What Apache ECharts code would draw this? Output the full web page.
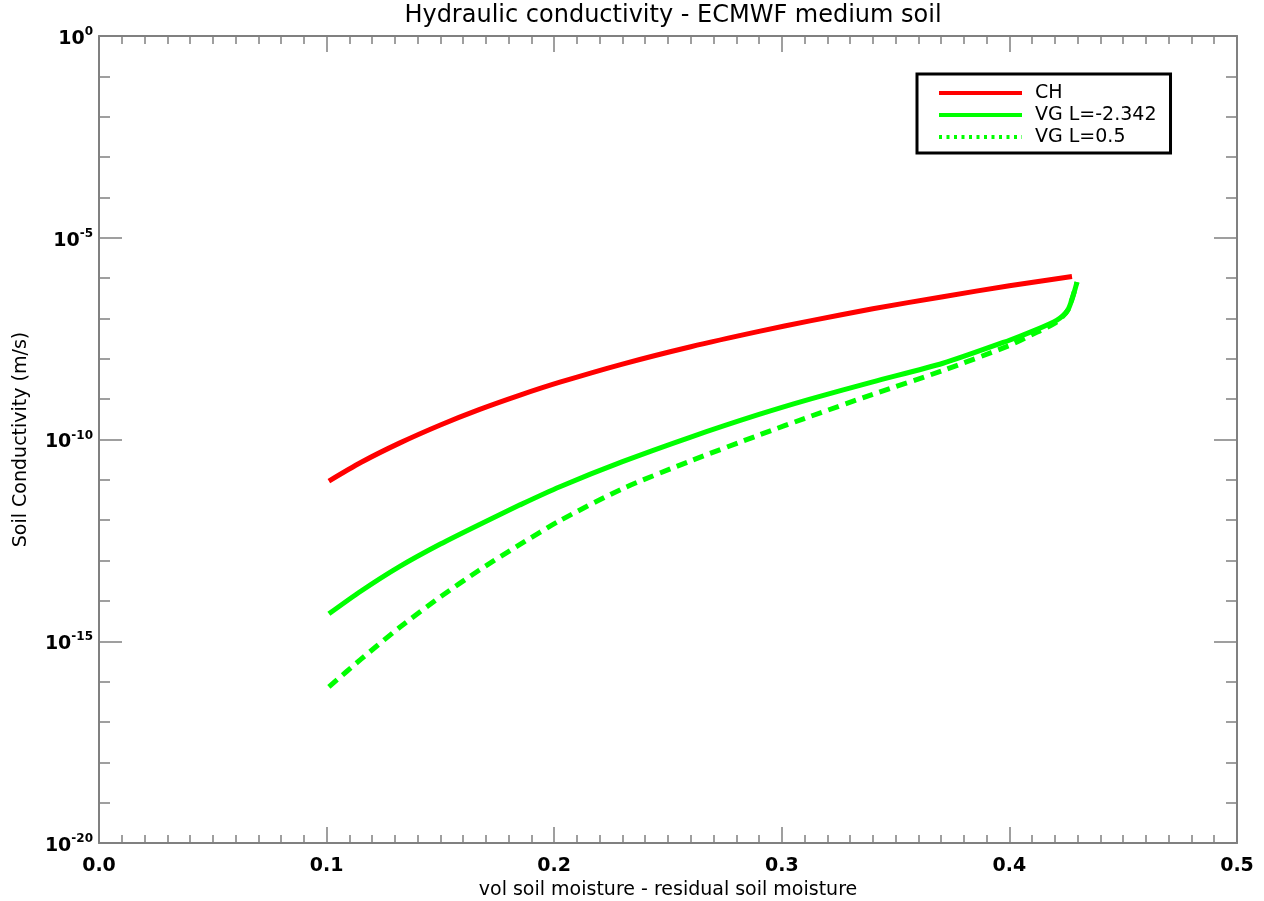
<!DOCTYPE html>
<html>
<head>
<meta charset="utf-8">
<title>Hydraulic conductivity - ECMWF medium soil</title>
<script src="https://cdn.jsdelivr.net/npm/echarts@6/dist/echarts.min.js"></script>
<style>
  html, body { margin: 0; padding: 0; background: #fff; }
  #chart { width: 1264px; height: 901px; }
</style>
</head>
<body>
<div id="chart"></div>
<script>
// Soil moisture above residual (m3/m3) and log10 of conductivity (m/s)
const chMoisture = [0.101, 0.115, 0.132, 0.150, 0.167, 0.185, 0.2025, 0.23, 0.26, 0.29, 0.3124, 0.34, 0.3708, 0.40, 0.4275];
const chLogK     = [-11.03, -10.57, -10.09, -9.64, -9.26, -8.90, -8.58, -8.13, -7.70, -7.32, -7.06, -6.76, -6.46, -6.19, -5.96];

const vgMoisture = [0.101, 0.115, 0.132, 0.150, 0.167, 0.185, 0.2025, 0.23, 0.26, 0.29, 0.3124, 0.34, 0.3708, 0.40, 0.41, 0.4209, 0.4257, 0.4297];
const vgNegLogK  = [-14.32, -13.76, -13.15, -12.59, -12.11, -11.62, -11.17, -10.55, -9.94, -9.38, -9.00, -8.57, -8.11, -7.54, -7.32, -7.04, -6.79, -6.10];
const vgHalfLogK = [-16.13, -15.45, -14.66, -13.90, -13.24, -12.60, -12.01, -11.22, -10.53, -9.89, -9.43, -8.88, -8.29, -7.67, -7.40, -7.08, -6.79, -6.10];

const seriesNames = ['CH', 'VG L=-2.342', 'VG L=0.5'];
const xTicks = [0.0, 0.1, 0.2, 0.3, 0.4, 0.5];
const yExponents = [-20, -15, -10, -5, 0];

const FONT = 'DejaVu Sans';
const AXIS_GREY = '#808080';

function pairs(xs, ys) {
  return xs.map((x, i) => [x, ys[i]]);
}

function xAxisCfg(position, showLabels) {
  return {
    type: 'value',
    position: position,
    min: xTicks[0],
    max: xTicks[xTicks.length - 1],
    interval: 0.1,
    axisLine: { show: true, onZero: false, lineStyle: { color: AXIS_GREY, width: 2 } },
    axisTick: { show: true, inside: true, length: 16, lineStyle: { color: AXIS_GREY, width: 1.5 } },
    minorTick: { show: true, splitNumber: 10, length: 8, lineStyle: { color: AXIS_GREY, width: 1.5 } },
    splitLine: { show: false },
    axisLabel: {
      show: showLabels,
      margin: 14,
      color: '#000',
      fontFamily: FONT,
      fontWeight: 'bold',
      fontSize: 19,
      formatter: v => v.toFixed(1)
    },
    name: showLabels ? 'vol soil moisture - residual soil moisture' : '',
    nameLocation: 'middle',
    nameGap: 36,
    nameTextStyle: { color: '#000', fontFamily: FONT, fontSize: 19 }
  };
}

function yAxisCfg(position, showLabels) {
  return {
    type: 'value',
    position: position,
    min: yExponents[0],
    max: yExponents[yExponents.length - 1],
    interval: 5,
    axisLine: { show: true, onZero: false, lineStyle: { color: AXIS_GREY, width: 2 } },
    axisTick: { show: true, inside: true, length: 23, lineStyle: { color: AXIS_GREY, width: 1.5 } },
    minorTick: { show: true, splitNumber: 5, length: 11, lineStyle: { color: AXIS_GREY, width: 1.5 } },
    splitLine: { show: false },
    axisLabel: {
      show: showLabels,
      margin: 6,
      color: '#000',
      formatter: v => '{b|10}{s|' + v + '}',
      rich: {
        b: { fontFamily: FONT, fontWeight: 'bold', fontSize: 19, color: '#000', padding: [6, 0, 0, 0] },
        s: { fontFamily: FONT, fontWeight: 'bold', fontSize: 12, color: '#000', padding: [0, 0, 8, 0] }
      }
    },
    name: showLabels ? 'Soil Conductivity (m/s)' : '',
    nameLocation: 'middle',
    nameRotate: 90,
    nameGap: 68,
    nameTextStyle: { color: '#000', fontFamily: FONT, fontSize: 19 }
  };
}

const chart = echarts.init(document.getElementById('chart'), null, { renderer: 'canvas' });

chart.setOption({
  backgroundColor: '#fff',
  animation: false,
  title: {
    text: 'Hydraulic conductivity - ECMWF medium soil',
    left: 668,
    textAlign: 'center',
    top: -1,
    textStyle: { color: '#000', fontFamily: FONT, fontSize: 24, fontWeight: 'normal' }
  },
  grid: { left: 99, right: 27, top: 36, bottom: 58, containLabel: false, outerBoundsMode: 'none' },
  xAxis: [xAxisCfg('bottom', true), xAxisCfg('top', false)],
  yAxis: [yAxisCfg('left', true), yAxisCfg('right', false)],
  legend: {
    orient: 'vertical',
    left: 917,
    top: 74,
    itemWidth: 83,
    itemHeight: 14,
    itemGap: 2,
    padding: [9, 14, 6, 20],
    borderColor: '#000',
    borderWidth: 3,
    itemStyle: { opacity: 0 },
    textStyle: { color: '#000', fontFamily: FONT, fontSize: 19, lineHeight: 20, padding: [0, 0, 0, 8] },
    data: [
      { name: seriesNames[0], lineStyle: { width: 4 } },
      { name: seriesNames[1], lineStyle: { width: 4 } },
      { name: seriesNames[2], lineStyle: { width: 4, type: [3, 4.5] } }
    ]
  },
  series: [
    {
      name: seriesNames[0],
      type: 'line',
      data: pairs(chMoisture, chLogK),
      symbol: 'none',
      smooth: 0.25,
      color: '#ff0000',
      lineStyle: { color: '#ff0000', width: 5 }
    },
    {
      name: seriesNames[1],
      type: 'line',
      data: pairs(vgMoisture, vgNegLogK),
      symbol: 'none',
      smooth: 0.25,
      color: '#00ff00',
      lineStyle: { color: '#00ff00', width: 5 }
    },
    {
      name: seriesNames[2],
      type: 'line',
      data: pairs(vgMoisture, vgHalfLogK),
      symbol: 'none',
      smooth: 0.25,
      color: '#00ff00',
      lineStyle: { color: '#00ff00', width: 5, type: [11, 7] }
    }
  ]
});
</script>
</body>
</html>
